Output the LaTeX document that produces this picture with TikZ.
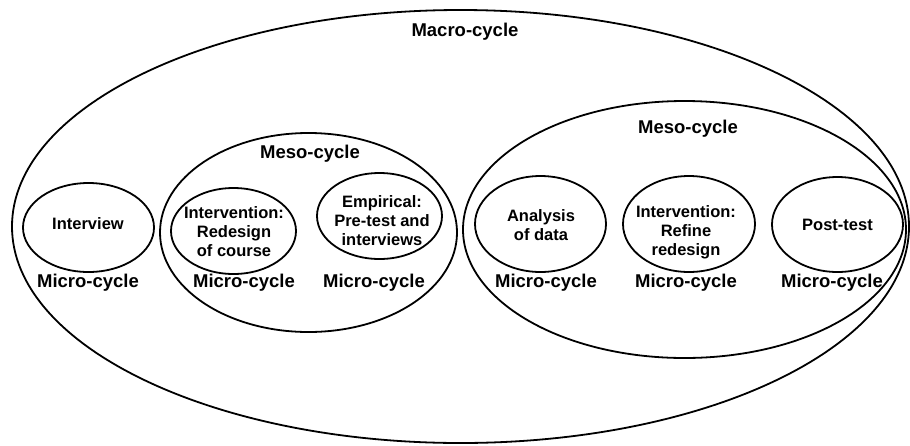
\documentclass[tikz,border=0pt]{standalone}
\usepackage{fontspec}
\setmainfont{Liberation Sans}
\usetikzlibrary{shapes.geometric}
\begin{document}
\begin{tikzpicture}[x=1pt,y=-1pt,
  ring/.style={draw, ellipse, line width=1.8pt, inner sep=0pt},
  lbl/.style={font=\fontsize{18.5}{20}\selectfont\bfseries, inner sep=0pt},
  txt/.style={font=\fontsize{16.5}{19}\selectfont\bfseries, align=center, inner sep=0pt}]
\useasboundingbox (0,0) rectangle (910,445);
% big ellipses
\node[ring, minimum width=897pt, minimum height=433pt] (macro) at (460.5,226.5) {};
\node[ring, minimum width=297pt, minimum height=199pt] (mesoL) at (308.5,232.5) {};
\node[ring, minimum width=443pt, minimum height=257pt] (mesoR) at (684.5,229.5) {};
% micro ellipses
\node[ring, minimum width=131pt, minimum height=89pt] (e1) at (88.5,227.5) {};
\node[ring, minimum width=125pt, minimum height=86pt] (e2) at (233.5,231) {};
\node[ring, minimum width=125pt, minimum height=86pt] (e3) at (379.5,216) {};
\node[ring, minimum width=131pt, minimum height=96pt] (e4) at (540.5,224) {};
\node[ring, minimum width=132pt, minimum height=96pt] (e5) at (689,224) {};
\node[ring, minimum width=131pt, minimum height=95pt] (e6) at (837.5,224.5) {};
% titles
\node[lbl] (tmacro) at (465,32) {Macro-cycle};
\node[lbl] (tmesoL) at (310,154) {Meso-cycle};
\node[lbl] (tmesoR) at (688,129) {Meso-cycle};
% texts
\node[txt] (x1) at (88,224) {Interview};
\node[txt] (x2) at (234,232) {Intervention:\\Redesign\\of course};
\node[txt] (x3) at (382,220.5) {Empirical:\\Pre-test and\\interviews};
\node[txt] (x4) at (541,225.5) {Analysis\\of data};
\node[txt] (x5) at (686,232) {Intervention:\\Refine\\redesign};
\node[txt] (x6) at (837.5,225) {Post-test};
% micro-cycle labels
\node[lbl] (m1) at (88,283) {Micro-cycle};
\node[lbl] (m2) at (244,283) {Micro-cycle};
\node[lbl] (m3) at (374,283) {Micro-cycle};
\node[lbl] (m4) at (546,283) {Micro-cycle};
\node[lbl] (m5) at (686,283) {Micro-cycle};
\node[lbl] (m6) at (832,283) {Micro-cycle};
\end{tikzpicture}
\end{document}
